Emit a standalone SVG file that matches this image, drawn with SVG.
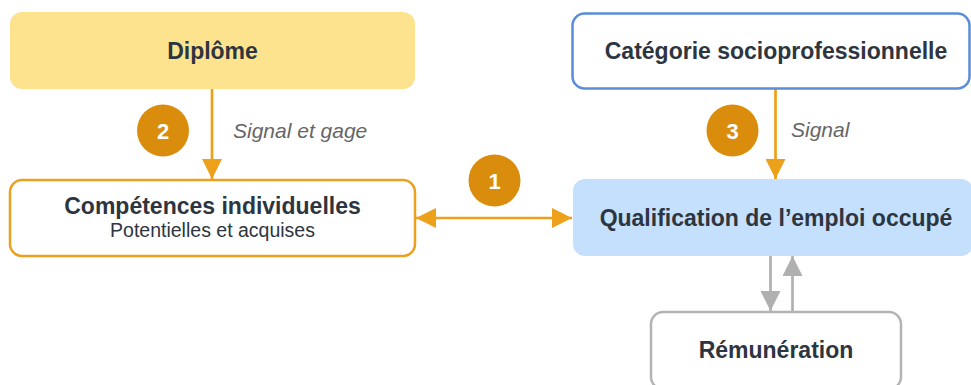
<svg xmlns="http://www.w3.org/2000/svg" width="971" height="385" viewBox="0 0 971 385">
<style>
.t{font-family:"Liberation Sans",Arial,sans-serif;font-weight:bold;font-size:23px;fill:#2D3540;text-anchor:middle}
.s{font-family:"Liberation Sans",Arial,sans-serif;font-size:19.5px;fill:#2D3540;text-anchor:middle}
.lab{font-family:"Liberation Sans",Arial,sans-serif;font-style:italic;font-size:21px;fill:#666666}
.num{font-family:"Liberation Sans",Arial,sans-serif;font-weight:bold;font-size:22px;fill:#FFFFFF;text-anchor:middle}
.badge{fill:#DA8C0C}
.oa{stroke:#EDA01A;stroke-width:2.7;fill:none}
.ga{stroke:#B0B0B0;stroke-width:2.7;fill:none}
</style>
<defs>
<marker id="ao" markerUnits="userSpaceOnUse" markerWidth="20" markerHeight="20" refX="20" refY="10" orient="auto-start-reverse" viewBox="0 0 20 20">
<path d="M0,0 L20,10 L0,20 z" fill="#EDA01A"/>
</marker>
<marker id="ag" markerUnits="userSpaceOnUse" markerWidth="20" markerHeight="20" refX="20" refY="10" orient="auto" viewBox="0 0 20 20">
<path d="M0,0 L20,10 L0,20 z" fill="#B0B0B0"/>
</marker>
</defs>

<g id="connectors">
<line class="oa" x1="212" y1="89" x2="212" y2="179" marker-end="url(#ao)"/>
<line class="oa" x1="775.5" y1="89" x2="775.5" y2="179" marker-end="url(#ao)"/>
<line class="oa" x1="416" y1="218" x2="572" y2="218" marker-start="url(#ao)" marker-end="url(#ao)"/>
<line class="ga" x1="770.5" y1="256" x2="770.5" y2="311" marker-end="url(#ag)"/>
<line class="ga" x1="792.5" y1="311" x2="792.5" y2="256" marker-end="url(#ag)"/>
</g>

<g id="node-diplome">
<rect x="10" y="12" width="405" height="77" rx="12" fill="#FEE38E"/>
<text class="t" x="212.5" y="59">Diplôme</text>
</g>

<g id="node-categorie">
<rect x="572.5" y="13.5" width="397" height="75" rx="12" fill="#FFFFFF" stroke="#5B8DD9" stroke-width="2.5"/>
<text class="t" x="776" y="59">Catégorie socioprofessionnelle</text>
</g>

<g id="node-competences">
<rect x="10" y="180" width="405" height="76" rx="12" fill="#FFFFFF" stroke="#E9A11F" stroke-width="2.5"/>
<text class="t" x="212.5" y="214">Compétences individuelles</text>
<text class="s" x="212.5" y="237">Potentielles et acquises</text>
</g>

<g id="node-qualification">
<rect x="573" y="179" width="400" height="77" rx="12" fill="#C4E0FC"/>
<text class="t" x="776" y="226">Qualification de l’emploi occupé</text>
</g>

<g id="node-remuneration">
<rect x="651" y="312" width="250" height="77" rx="12" fill="#FFFFFF" stroke="#B3B3B3" stroke-width="2.5"/>
<text class="t" x="776" y="358">Rémunération</text>
</g>

<g id="badge-1">
<circle class="badge" cx="494.5" cy="180.5" r="26"/>
<text class="num" x="494.5" y="188.5">1</text>
</g>
<g id="badge-2">
<circle class="badge" cx="163" cy="130.5" r="26"/>
<text class="num" x="163" y="138.5">2</text>
</g>
<g id="badge-3">
<circle class="badge" cx="732.5" cy="130.5" r="26"/>
<text class="num" x="732.5" y="138.5">3</text>
</g>

<g id="labels">
<text class="lab" x="233" y="138">Signal et gage</text>
<text class="lab" x="791" y="137">Signal</text>
</g>
</svg>
